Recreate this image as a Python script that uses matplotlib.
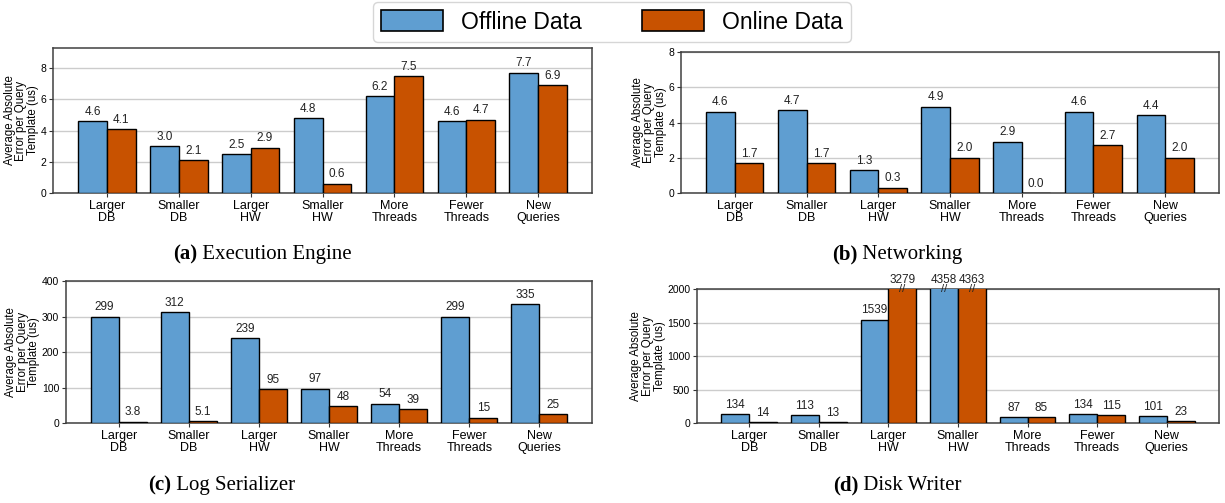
import numpy as np
import matplotlib
matplotlib.use("Agg")
import matplotlib.pyplot as plt
from matplotlib.patches import Patch

plt.rcParams['font.family'] = ['Liberation Sans', 'DejaVu Sans']

categories = ["Larger\nDB", "Smaller\nDB", "Larger\nHW", "Smaller\nHW",
              "More\nThreads", "Fewer\nThreads", "New\nQueries"]

# average absolute error per query template (us)
exec_offline = [4.6, 3.0, 2.5, 4.8, 6.2, 4.6, 7.7]
exec_online = [4.1, 2.1, 2.9, 0.6, 7.5, 4.7, 6.9]

net_offline = [4.6, 4.7, 1.3, 4.9, 2.9, 4.6, 4.4]
net_online = [1.7, 1.7, 0.3, 2.0, 0.0, 2.7, 2.0]

log_offline = [299, 312, 239, 97, 54, 299, 335]
log_online = [3.8, 5.1, 95, 48, 39, 15, 25]

disk_offline = [134, 113, 1539, 4358, 87, 134, 101]
disk_online = [14, 13, 3279, 4363, 85, 115, 23]

OFFLINE_COLOR = "#5F9ED1"
ONLINE_COLOR = "#C85200"
WIDTH = 0.4


def fmt(v):
    return f"{v:.1f}" if v < 10 else f"{v:.0f}"


def draw_panel(ax, offline, online, ylim, yticks):
    x = np.arange(len(categories))
    b1 = ax.bar(x - WIDTH / 2, offline, WIDTH, color=OFFLINE_COLOR,
                edgecolor="black", linewidth=1.0, zorder=3)
    b2 = ax.bar(x + WIDTH / 2, online, WIDTH, color=ONLINE_COLOR,
                edgecolor="black", linewidth=1.0, zorder=3)
    ymax = ylim[1]
    for bars, vals in ((b1, offline), (b2, online)):
        for rect, v in zip(bars, vals):
            cx = rect.get_x() + rect.get_width() / 2
            top = min(v, ymax)
            ax.annotate(fmt(v), xy=(cx, top), xytext=(0, 2.5),
                        textcoords="offset points", ha="center", va="bottom",
                        fontsize=8.5, color="#222222", annotation_clip=False)
            if v > ymax:
                # break marker for bars cut off at the top of the axis
                ax.text(cx, ymax, "//", ha="center", va="center",
                        fontsize=8, color="#222222", zorder=5, clip_on=False)
    ax.set_xlim(-0.75, len(categories) - 0.25)
    ax.set_ylim(*ylim)
    ax.set_yticks(yticks)
    ax.set_xticks(x)
    ax.set_xticklabels(categories, fontsize=9, linespacing=1.0)
    ax.tick_params(axis="y", labelsize=7.5, length=3, pad=2, color="#333333")
    ax.tick_params(axis="x", length=3, pad=2, color="#333333")
    ax.yaxis.grid(True, color="#cccccc", linewidth=1.0, zorder=0)
    ax.set_axisbelow(True)
    for s in ax.spines.values():
        s.set_color("#404040")
        s.set_linewidth(1.1)
    ax.set_ylabel("Average Absolute\nError per Query\nTemplate (us)",
                  fontsize=8.3, linespacing=0.95, labelpad=1)


fig = plt.figure(figsize=(12.25, 5.03), dpi=100)

ax_a = fig.add_axes([0.0433, 0.6163, 0.4400, 0.2883])
ax_b = fig.add_axes([0.5559, 0.6163, 0.4392, 0.2803])
ax_c = fig.add_axes([0.0539, 0.1590, 0.4294, 0.2823])
ax_d = fig.add_axes([0.5690, 0.1590, 0.4261, 0.2664])

draw_panel(ax_a, exec_offline, exec_online, (0, 9.3), [0, 2, 4, 6, 8])
draw_panel(ax_b, net_offline, net_online, (0, 8), [0, 2, 4, 6, 8])
draw_panel(ax_c, log_offline, log_online, (0, 400), [0, 100, 200, 300, 400])
draw_panel(ax_d, disk_offline, disk_online, (0, 2000), [0, 500, 1000, 1500, 2000])

# sub-figure captions
captions = [
    (173 / 1225, 1 - 254 / 503, "(a)", " Execution Engine"),
    (832 / 1225, 1 - 254 / 503, "(b)", " Networking"),
    (148 / 1225, 1 - 485 / 503, "(c)", " Log Serializer"),
    (833 / 1225, 1 - 485 / 503, "(d)", " Disk Writer"),
]
for cx, cy, tag, name in captions:
    t = fig.text(cx, cy, tag, fontsize=15, fontweight="bold",
                 family="Liberation Serif", ha="left", va="center")
    plt.annotate(name, xy=(1, 0), xycoords=t, ha="left", va="bottom",
                 fontsize=15, family="Liberation Serif")

handles = [Patch(facecolor=OFFLINE_COLOR, edgecolor="black", linewidth=1.2),
           Patch(facecolor=ONLINE_COLOR, edgecolor="black", linewidth=1.2)]
fig.legend(handles, ["Offline Data", "Online Data"], loc="center",
           bbox_to_anchor=(612 / 1225, 1 - 22 / 503), ncol=2, fontsize=16.5,
           handlelength=2.7, handleheight=1.0, handletextpad=0.8,
           columnspacing=2.6, frameon=True, fancybox=True,
           edgecolor="#cccccc", borderpad=0.35)

fig.savefig("out.png", dpi=100)
